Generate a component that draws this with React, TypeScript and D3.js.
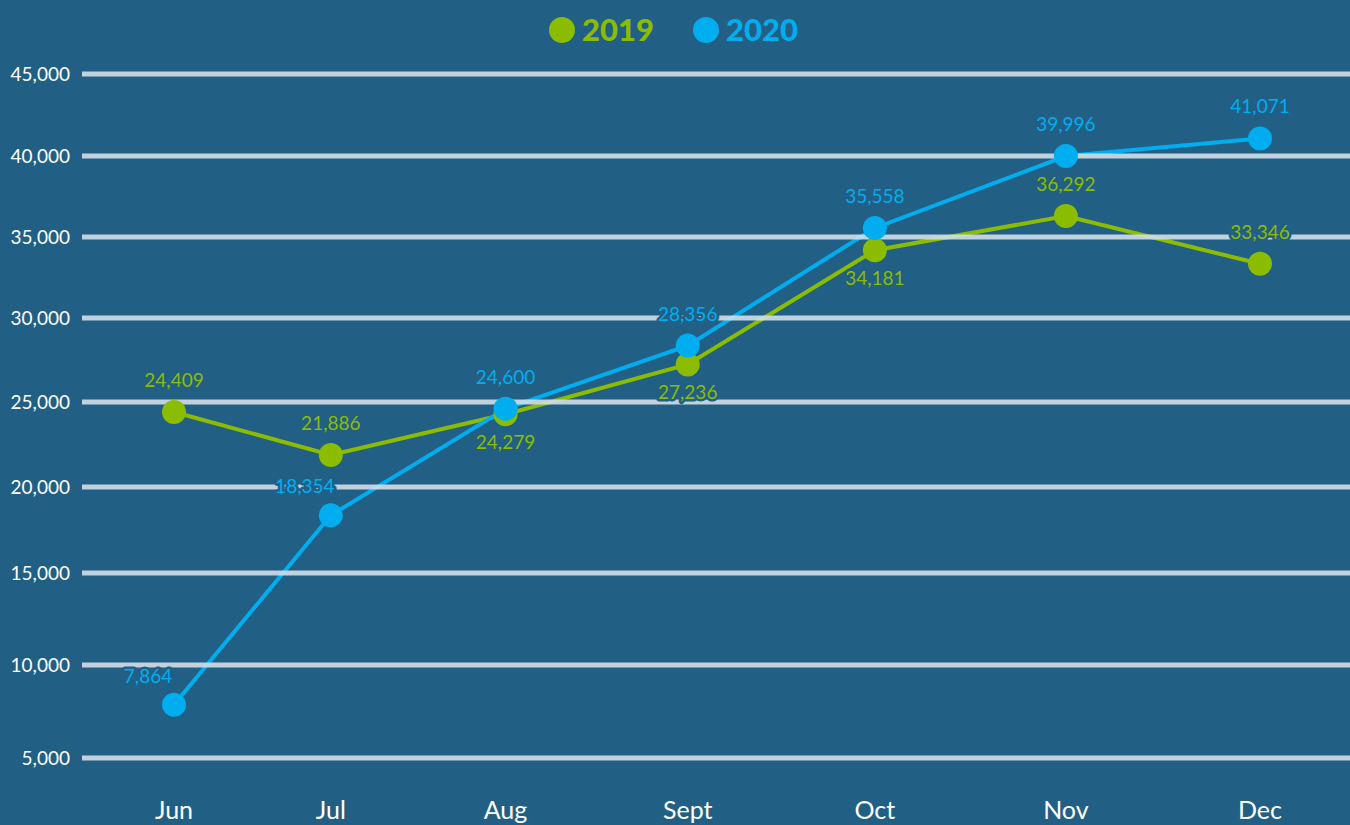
import React, { useEffect, useRef } from "react";
import * as d3 from "d3";

const months = ["Jun", "Jul", "Aug", "Sept", "Oct", "Nov", "Dec"];
const values2019 = [24409, 21886, 24279, 27236, 34181, 36292, 33346];
const values2020 = [7864, 18354, 24600, 28356, 35558, 39996, 41071];
const place2019 = ["above", "above", "below", "below", "below", "above", "above"];
const place2020 = ["left", "left", "above", "above", "above", "above", "above"];
const yTicks = [5000, 10000, 15000, 20000, 25000, 30000, 35000, 40000, 45000];
const seriesNames = ["2019", "2020"];

const W = 1350;
const H = 825;
const BG = "#215f85";
const GREEN = "#8cbc00";
const BLUE = "#00aeef";
const GRID = "#d3dee7";
const FONT = "Lato, 'Open Sans', sans-serif";

const App: React.FC = () => {
  const svgRef = useRef<SVGSVGElement>(null);

  useEffect(() => {
    if (!svgRef.current) return;
    const svg = d3.select(svgRef.current);
    svg.selectAll("*").remove();

    svg.append("rect").attr("width", W).attr("height", H).attr("fill", BG);

    // gridlines in the original are not evenly spaced, so piecewise linear
    const y = d3
      .scaleLinear()
      .domain(yTicks)
      .range([758, 665, 573, 487, 402, 318, 237, 156, 74]);

    // month columns widen slightly to the right in the original
    const xi = d3.scalePow().exponent(1.08).domain([0, months.length - 1]).range([174, 1260]);
    const x = (m: string) => xi(months.indexOf(m));

    // y tick labels
    svg
      .append("g")
      .selectAll("text")
      .data(yTicks)
      .join("text")
      .attr("x", 70)
      .attr("y", (d) => y(d))
      .attr("dy", "0.35em")
      .attr("text-anchor", "end")
      .attr("fill", "#ffffff")
      .attr("font-family", FONT)
      .attr("font-size", 19)
      .text((d) => d3.format(",")(d));

    // month labels
    svg
      .append("g")
      .selectAll("text")
      .data(months)
      .join("text")
      .attr("x", (d) => x(d))
      .attr("y", 819)
      .attr("text-anchor", "middle")
      .attr("fill", "#ffffff")
      .attr("font-family", FONT)
      .attr("font-size", 25)
      .text((d) => d);

    const line = d3
      .line<number>()
      .x((_, i) => x(months[i]))
      .y((d) => y(d));

    const series = [
      { name: "2019", values: values2019, place: place2019, color: GREEN },
      { name: "2020", values: values2020, place: place2020, color: BLUE },
    ];

    series.forEach((s) => {
      svg
        .append("path")
        .datum(s.values)
        .attr("d", line)
        .attr("fill", "none")
        .attr("stroke", s.color)
        .attr("stroke-width", 4);
    });

    // gridlines sit over the lines, slightly see-through
    svg
      .append("g")
      .selectAll("line")
      .data(yTicks)
      .join("line")
      .attr("x1", 82)
      .attr("x2", W)
      .attr("y1", (d) => y(d))
      .attr("y2", (d) => y(d))
      .attr("stroke", GRID)
      .attr("stroke-opacity", 0.9)
      .attr("stroke-width", 5);

    series.forEach((s) => {
      const g = svg.append("g");
      g.selectAll("circle")
        .data(s.values)
        .join("circle")
        .attr("cx", (_, i) => x(months[i]))
        .attr("cy", (d) => y(d))
        .attr("r", 12)
        .attr("fill", s.color);
    });

    // value labels on top, with a background halo so lines don't cut through
    series.forEach((s) => {
      svg
        .append("g")
        .selectAll("text")
        .data(s.values)
        .join("text")
        .attr("x", (_, i) => x(months[i]) + (s.place[i] === "left" ? -26 : 0))
        .attr("y", (d, i) =>
          s.place[i] === "below" ? y(d) + 35 : s.place[i] === "left" ? y(d) - 22 : y(d) - 25
        )
        .attr("text-anchor", "middle")
        .attr("fill", s.color)
        .attr("stroke", BG)
        .attr("stroke-width", 5)
        .attr("stroke-linejoin", "round")
        .attr("paint-order", "stroke")
        .attr("font-family", FONT)
        .attr("font-size", 19)
        .text((d) => d3.format(",")(d));
    });

    // legend
    const legend = svg
      .append("g")
      .selectAll("g")
      .data(seriesNames)
      .join("g")
      .attr("transform", (_, i) => `translate(${562 + i * 144},30)`);
    legend
      .append("circle")
      .attr("r", 13)
      .attr("fill", (_, i) => series[i].color);
    legend
      .append("text")
      .attr("x", 20)
      .attr("dy", "0.36em")
      .attr("fill", (_, i) => series[i].color)
      .attr("font-family", FONT)
      .attr("font-weight", 900)
      .attr("font-size", 31)
      .text((d) => d);
  }, []);

  return (
    <div style={{ position: "fixed", left: 0, top: 0, width: W, height: H }}>
      <svg ref={svgRef} width={W} height={H} style={{ display: "block" }} />
    </div>
  );
};

export default App;
